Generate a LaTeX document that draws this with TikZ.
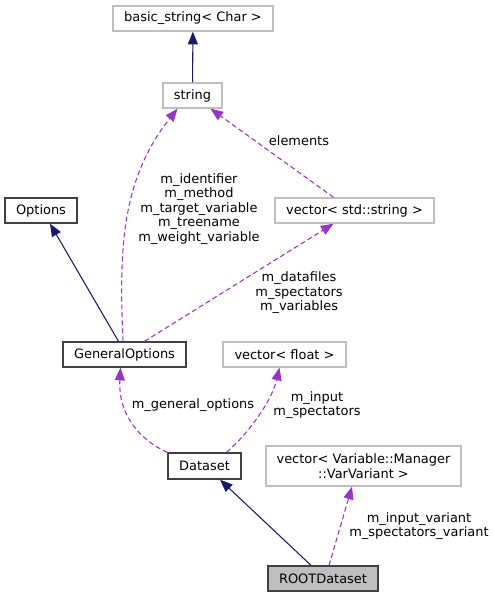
\documentclass[tikz,border=0pt]{standalone}
\usepackage{fontspec}
\setmainfont{DejaVu Sans}
\usetikzlibrary{arrows.meta,calc}
\definecolor{inhcol}{HTML}{191970}
\definecolor{usecol}{HTML}{9A32CD}
\definecolor{boxgray}{HTML}{BFBFBF}

\begin{document}
\begin{tikzpicture}[x=0.75pt,y=-0.75pt,
        font=\fontsize{9.7}{10.9}\selectfont,
        cls/.style={draw=boxgray,line width=1pt,inner sep=0pt,align=center,minimum height=18.75pt},
        clsdoc/.style={cls,draw=black!75},
        clsmain/.style={clsdoc,fill=boxgray},
        inh/.style={-{Triangle[length=9.5pt,width=7.5pt]},inhcol,line width=0.8pt},
        use/.style={-{Triangle[length=9.5pt,width=7.5pt]},usecol,line width=0.8pt,dash pattern=on 3.75pt off 2.25pt},
        lbl/.style={align=center,inner sep=0pt},]
    \useasboundingbox (0,0) rectangle (495,597);
    % classes
    \node[cls,minimum width=120pt] (bas) at (193,18.5) {basic\_string< Char >};
    \node[cls,minimum width=44.25pt] (str) at (192.5,95.5) {string};
    \node[clsdoc,minimum width=54pt] (opt) at (41,210.5) {Options};
    \node[cls,minimum width=119.25pt] (vstr) at (354.5,210.5) {vector< std::string >};
    \node[clsdoc,minimum width=92.25pt] (gen) at (124.5,354.5) {GeneralOptions};
    \node[cls,minimum width=92.25pt] (vfl) at (284.5,354.5) {vector< float >};
    \node[clsdoc,minimum width=54.75pt,minimum height=19.5pt] (ds) at (204.5,466) {Dataset};
    \node[cls,minimum width=146.25pt,minimum height=30pt] (vvar) at (363.5,466) {vector< Variable::Manager\\::VarVariant >};
    \node[clsmain,minimum width=82.5pt] (root) at (323,578.5) {ROOTDataset};
    % labels
    \node[lbl] (lid) at (199,209) {m\_identifier\\m\_method\\m\_target\_variable\\m\_treename\\m\_weight\_variable};
    \node[lbl] (lel) at (299,141) {elements};
    \node[lbl] (ldf) at (299,293) {m\_datafiles\\m\_spectators\\m\_variables};
    \node[lbl] (lgo) at (193,405) {m\_general\_options};
    \node[lbl] (lin) at (317,405) {m\_input\\m\_spectators};
    \node[lbl] (liv) at (419,526) {m\_input\_variant\\m\_spectators\_variant};
    % inheritance
    \draw[inh] (str) -- (bas);
    \draw[inh] ($(gen.north)+(-6,0)$) -- ($(opt.south)+(9,0)$);
    \draw[inh] ($(root.north)+(-12,0)$) -- ($(ds.south)+(15.5,0)$);
    % usage
    \draw[use] ($(gen.north)+(-1.5,0)$) .. controls (119,250) and (121,180) .. ($(str.south)+(-15,0)$);
    \draw[use] ($(vstr.north)+(-21,0)$) -- ($(str.south)+(18,0)$);
    \draw[use] ($(gen.north)+(20,0)$) -- ($(vstr.south)+(-21,0)$);
    \draw[use] (ds.north west) .. controls (140,440) and (118,415) .. ($(gen.south)+(-4,0)$);
    \draw[use] ($(ds.north)+(22,0)$) .. controls (250,432) and (272,400) .. ($(vfl.south)+(-5,0)$);
    \draw[use] ($(root.north)+(6,0)$) -- ($(vvar.south)+(-11.5,0)$);
\end{tikzpicture}
\end{document}
